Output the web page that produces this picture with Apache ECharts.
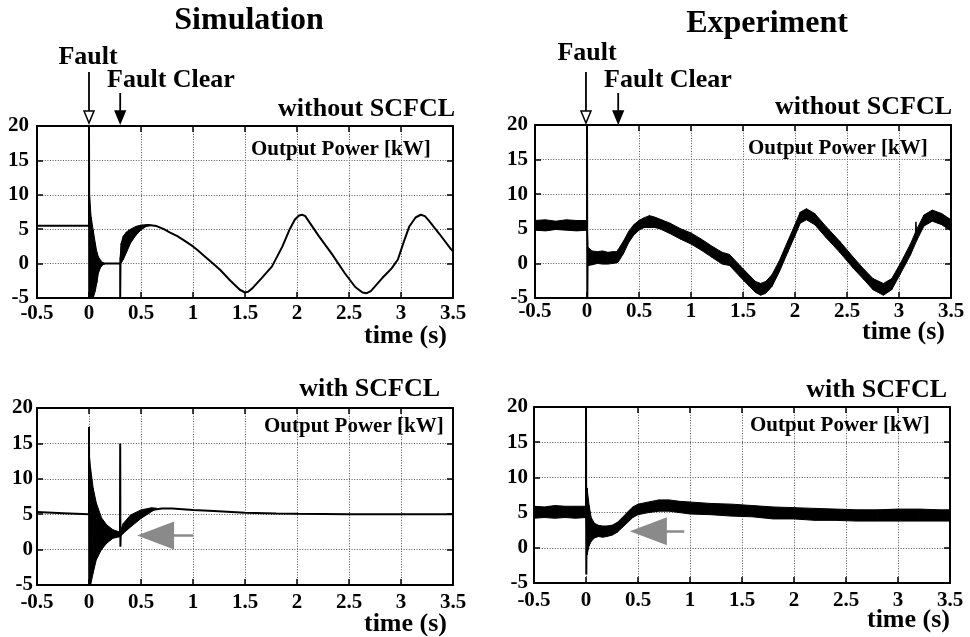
<!DOCTYPE html>
<html><head><meta charset="utf-8">
<script src="https://cdn.jsdelivr.net/npm/echarts@6/dist/echarts.min.js"></script>
<style>html,body{margin:0;padding:0;background:#fff}#c{width:970px;height:637px}</style>
</head><body><div id="c"></div>
<script>
// ================= DATA =================
// Simulation, without SCFCL: centre trace [time s, power kW]
const simWithoutTrace = [[-0.5,5.5],[0,5.5],[0,20],[0.004,-5],[0.04,-1.5],[0.09,-0.3],[0.15,0],[0.3,0],[0.3,-5],[0.303,0.8],[0.35,3.0],[0.4,4.0],[0.45,4.8],[0.5,5.3],[0.57,5.6],[0.65,5.45],[0.72,5.0],[0.78,4.5],[0.85,4.0],[0.91,3.4],[1.0,2.5],[1.04,2.0],[1.1,1.2],[1.17,0.3],[1.26,-0.9],[1.36,-2.5],[1.45,-3.8],[1.5,-4.2],[1.53,-4.1],[1.57,-3.6],[1.66,-2.1],[1.76,-0.4],[1.86,2.5],[1.93,5.0],[1.98,6.4],[2.02,7.0],[2.05,7.1],[2.08,6.9],[2.12,6.0],[2.21,4.0],[2.34,1.3],[2.46,-1.4],[2.56,-3.4],[2.63,-4.2],[2.67,-4.3],[2.71,-4.0],[2.75,-3.3],[2.82,-2.1],[2.91,-0.7],[2.97,0.6],[3.03,3.3],[3.08,5.4],[3.14,6.7],[3.19,7.1],[3.23,6.9],[3.27,6.2],[3.37,4.3],[3.48,2.1],[3.5,1.8]];
// oscillation envelopes (dense ringing drawn as filled band)
const simWithoutBurstT  = [0, 0.005, 0.02, 0.04, 0.06, 0.075, 0.09, 0.11, 0.13, 0.15];
const simWithoutBurstHi = [20, 10, 6.8, 4.9, 3.0, 1.7, 1.0, 0.5, 0.2, 0.05];
const simWithoutBurstLo = [-5, -5, -5, -5, -4.0, -2.8, -1.4, -0.6, -0.2, -0.05];
const simWithoutRecT  = [0.3, 0.31, 0.33, 0.36, 0.4, 0.45, 0.5, 0.55, 0.6];
const simWithoutRecHi = [1.0, 3.0, 4.0, 4.6, 5.0, 5.4, 5.6, 5.65, 5.6];
const simWithoutRecLo = [0, 0.1, 0.6, 1.6, 3.0, 4.1, 4.9, 5.4, 5.55];

// Simulation, with SCFCL
const simWithTrace = [[-0.5,5.3],[-0.25,5.15],[0,5.0],[0,17.3],[0.004,-5],[0.02,0],[0.07,2.5],[0.15,2.5],[0.25,2.2],[0.298,2.1],[0.3,15],[0.302,0.4],[0.306,2.6],[0.35,3.4],[0.4,4.1],[0.5,5.0],[0.6,5.6],[0.7,5.8],[0.8,5.8],[0.9,5.7],[1.0,5.6],[1.2,5.45],[1.5,5.2],[1.8,5.1],[2.0,5.05],[2.5,5.0],[3.0,5.0],[3.5,5.0]];
const simWithBurstT  = [0, 0.005, 0.015, 0.04, 0.07, 0.12, 0.17, 0.23, 0.29, 0.3];
const simWithBurstHi = [17.3, 13, 11.5, 8.7, 6.6, 4.5, 3.5, 2.8, 2.5, 2.5];
const simWithBurstLo = [-5, -5, -5, -3.3, -1.45, 0, 0.9, 1.6, 1.8, 1.8];
const simWithRecT  = [0.3, 0.33, 0.4, 0.5, 0.6, 0.65];
const simWithRecHi = [2.6, 3.7, 4.9, 5.6, 5.9, 5.85];
const simWithRecLo = [1.8, 2.3, 3.2, 4.4, 5.35, 5.8];

// Experiment, without SCFCL: noisy trace as upper/lower envelope
const expWithoutT  = [-0.5,-0.4,-0.3,-0.2,-0.1,0,0.01,0.05,0.1,0.15,0.2,0.25,0.29,0.3,0.35,0.4,0.45,0.5,0.55,0.6,0.65,0.7,0.8,0.9,1.0,1.1,1.2,1.3,1.37,1.47,1.56,1.62,1.67,1.72,1.78,1.85,1.93,2.0,2.05,2.11,2.19,2.3,2.43,2.56,2.66,2.75,2.85,2.93,3.01,3.11,3.17,3.24,3.32,3.41,3.5];
const expWithoutHi = [6.2,6.3,6.1,6.3,6.2,6.2,2.3,1.8,1.7,1.8,1.6,1.7,1.7,2.0,3.2,4.6,5.6,6.2,6.6,6.9,6.7,6.4,5.8,5.0,4.4,3.5,2.5,1.6,1.3,-0.3,-1.7,-2.6,-2.9,-2.6,-1.6,0.4,3.2,5.6,7.4,7.9,7.2,5.3,3.2,0.9,-0.8,-2.2,-2.9,-2.2,-0.1,2.8,4.9,7.0,7.7,7.2,6.3];
const expWithoutLo = [4.8,4.7,4.9,4.8,4.7,4.8,-0.3,-0.2,0.0,-0.1,-0.1,0.0,0.1,0.2,1.4,3.0,4.1,4.8,5.2,5.2,5.2,5.0,4.3,3.5,2.8,1.9,0.9,-0.1,-0.3,-1.9,-3.3,-4.2,-4.6,-4.3,-3.3,-1.2,1.6,4.0,5.8,6.3,5.6,3.7,1.6,-0.7,-2.3,-3.8,-4.6,-3.8,-1.6,1.2,3.3,5.4,6.1,5.6,4.7];
const expWithoutFaultSpike = [[0,5.5],[0,20],[0.003,-5],[0.006,1.0]];
const expWithoutGlitch = [[3.16,4.3],[3.163,6.0],[3.166,4.3]];

// Experiment, with SCFCL
const expWithT  = [-0.5,-0.4,-0.3,-0.2,-0.1,0,0.01,0.03,0.05,0.08,0.12,0.16,0.2,0.25,0.3,0.35,0.4,0.45,0.5,0.6,0.7,0.8,0.9,1.0,1.2,1.4,1.6,1.8,2.0,2.2,2.4,2.6,2.8,3.0,3.2,3.4,3.5];
const expWithHi = [5.9,5.8,6.0,5.9,5.9,5.9,8.5,6.0,4.3,3.5,3.2,3.1,3.1,3.2,3.6,4.3,5.1,5.8,6.2,6.5,6.8,6.8,6.6,6.5,6.3,6.2,6.0,5.8,5.7,5.6,5.5,5.4,5.4,5.5,5.5,5.4,5.4];
const expWithLo = [4.2,4.3,4.2,4.3,4.2,4.3,-1.0,0.3,0.9,1.4,1.6,1.5,1.6,1.8,2.2,2.9,3.6,4.3,4.7,5.0,5.2,5.2,5.0,4.8,4.7,4.5,4.4,4.1,4.1,3.9,3.9,3.8,3.8,3.8,3.8,3.8,3.8];
const expWithFaultSpike = [[0,5.0],[0,20],[0.003,-3.8],[0.008,8.5]];

// annotation positions (time in s, power in kW)
const faultTime = {sim: 0, exp: -0.01};
const clearTime = {sim: 0.3, exp: 0.3};
const grayArrowSim = [[1.0, 2.0], [0.64, 2.0]];
const grayArrowExp = [[0.945, 2.35], [0.6, 2.35]];

// ================= CHART =================
const FONT = '"Liberation Serif", "Times New Roman", serif';
const chart = echarts.init(document.getElementById('c'), null, {renderer: 'canvas'});

const grids = [
  {left: 37, top: 126, width: 416, height: 172},
  {left: 535, top: 125, width: 416, height: 173},
  {left: 37, top: 408, width: 416, height: 177},
  {left: 534, top: 407, width: 416, height: 176}
];
const xLabelMargin = [5, 3.5, 7, 7];
const yLabelMargin = [8, 7, 4, 6];

const xAxes = [], yAxes = [];
grids.forEach((g, i) => {
  const common = {
    type: 'value', gridIndex: i,
    axisLine: {show: true, onZero: false, lineStyle: {color: '#000', width: 2}},
    axisTick: {show: true, inside: true, length: 6, lineStyle: {color: '#000', width: 1.5}}
  };
  const split = {show: true, lineStyle: {color: '#555', width: 1, type: [1, 1.6]}};
  xAxes.push(Object.assign({}, common, {
    position: 'bottom', min: -0.5, max: 3.5, interval: 0.5,
    axisLabel: {show: true, color: '#000', fontFamily: FONT, fontWeight: 'bold', fontSize: 21, margin: xLabelMargin[i]},
    splitLine: split
  }));
  xAxes.push(Object.assign({}, common, {
    position: 'top', min: -0.5, max: 3.5, interval: 0.5,
    axisLabel: {show: false}, splitLine: {show: false}
  }));
  yAxes.push(Object.assign({}, common, {
    position: 'left', min: -5, max: 20, interval: 5,
    axisLabel: {show: true, color: '#000', fontFamily: FONT, fontWeight: 'bold', fontSize: 21, margin: yLabelMargin[i]},
    splitLine: split
  }));
  yAxes.push(Object.assign({}, common, {
    position: 'right', min: -5, max: 20, interval: 5,
    axisLabel: {show: false}, splitLine: {show: false}
  }));
});

function lineS(gi, data, width, extra) {
  return Object.assign({
    type: 'line', xAxisIndex: 2 * gi, yAxisIndex: 2 * gi, data: data,
    symbol: 'none', showSymbol: false, animation: false, z: 3,
    lineStyle: {color: '#000', width: width}
  }, extra || {});
}
// filled band between an upper and a lower envelope, one quad per segment
function bandS(gi, T, HI, LO) {
  const segs = [];
  for (let k = 1; k < T.length; k++) segs.push([T[k - 1], HI[k - 1], LO[k - 1], T[k], HI[k], LO[k]]);
  return {
    type: 'custom', xAxisIndex: 2 * gi, yAxisIndex: 2 * gi, animation: false, z: 3, clip: true,
    encode: {x: [0, 3], y: [1, 2, 4, 5]},
    data: segs,
    renderItem: function (params, api) {
      const a = api.coord([api.value(0), api.value(1)]);
      const b = api.coord([api.value(3), api.value(4)]);
      const c = api.coord([api.value(3), api.value(5)]);
      const d = api.coord([api.value(0), api.value(2)]);
      return {type: 'polygon', shape: {points: [a, b, c, d]},
        style: {fill: '#000', stroke: '#000', lineWidth: 1, lineJoin: 'round'}};
    }
  };
}
function grayArrow(pts) {
  return {
    silent: true, animation: false, symbol: ['none', 'triangle'], symbolSize: [28, 37],
    label: {show: false},
    lineStyle: {color: '#8a8a8a', width: 2.5, type: 'solid'},
    itemStyle: {color: '#8a8a8a'},
    data: [[{coord: pts[0]}, {coord: pts[1]}]]
  };
}

const series = [
  lineS(0, simWithoutTrace, 2),
  bandS(0, simWithoutBurstT, simWithoutBurstHi, simWithoutBurstLo),
  bandS(0, simWithoutRecT, simWithoutRecHi, simWithoutRecLo),
  bandS(1, expWithoutT, expWithoutHi, expWithoutLo),
  lineS(1, expWithoutFaultSpike, 2),
  lineS(1, expWithoutGlitch, 1.5),
  lineS(2, simWithTrace, 2, {markLine: grayArrow(grayArrowSim)}),
  bandS(2, simWithBurstT, simWithBurstHi, simWithBurstLo),
  bandS(2, simWithRecT, simWithRecHi, simWithRecLo),
  bandS(3, expWithT, expWithHi, expWithLo),
  lineS(3, expWithFaultSpike, 2, {markLine: grayArrow(grayArrowExp)})
];

chart.setOption({
  animation: false,
  backgroundColor: '#fff',
  grid: grids,
  xAxis: xAxes,
  yAxis: yAxes,
  series: series
});

// ---- text & fault arrows ----
function txt(s, x, y, size, align) {
  return {type: 'text', x: x, y: y, silent: true, z: 10,
    style: {text: s, fill: '#000', font: 'bold ' + size + 'px ' + FONT, align: align, verticalAlign: 'middle'}};
}
function arrow(x, y0, y1, hollow) {
  return [
    {type: 'line', silent: true, z: 10, shape: {x1: x, y1: y0, x2: x, y2: y1 - 2}, style: {stroke: '#000', lineWidth: 1.8}},
    {type: 'polygon', silent: true, z: 10, shape: {points: [[x - 5, y1 - 12], [x + 5, y1 - 12], [x, y1]]},
      style: {fill: hollow ? '#fff' : '#000', stroke: '#000', lineWidth: 1.5}}
  ];
}
const fx0 = chart.convertToPixel({xAxisIndex: 0}, faultTime.sim);
const cx0 = chart.convertToPixel({xAxisIndex: 0}, clearTime.sim);
const fx1 = chart.convertToPixel({xAxisIndex: 2}, faultTime.exp);
const cx1 = chart.convertToPixel({xAxisIndex: 2}, clearTime.exp);

const graphics = [
  txt('Simulation', 249, 21, 32, 'center'),
  txt('Experiment', 767, 24, 32, 'center'),
  txt('Fault', 88, 57, 26, 'center'),
  txt('Fault Clear', 171, 80, 26, 'center'),
  txt('Fault', 587, 53, 26, 'center'),
  txt('Fault Clear', 668, 80, 26, 'center'),
  txt('without SCFCL', 455, 109, 26, 'right'),
  txt('without SCFCL', 952, 107, 26, 'right'),
  txt('with SCFCL', 440, 389, 26, 'right'),
  txt('with SCFCL', 947, 390, 26, 'right'),
  txt('Output Power [kW]', 251, 150, 21, 'left'),
  txt('Output Power [kW]', 748, 149, 21, 'left'),
  txt('Output Power [kW]', 264, 427, 21, 'left'),
  txt('Output Power [kW]', 750, 426, 21, 'left'),
  txt('time (s)', 447, 336, 26, 'right'),
  txt('time (s)', 945, 332, 26, 'right'),
  txt('time (s)', 447, 624, 26, 'right'),
  txt('time (s)', 950, 620, 26, 'right')
].concat(
  arrow(fx0, 72, 123, true),
  arrow(cx0, 93, 123, false),
  arrow(fx1, 72, 123, true),
  arrow(cx1, 93, 123, false)
);
chart.setOption({graphic: graphics});
</script>
</body></html>
